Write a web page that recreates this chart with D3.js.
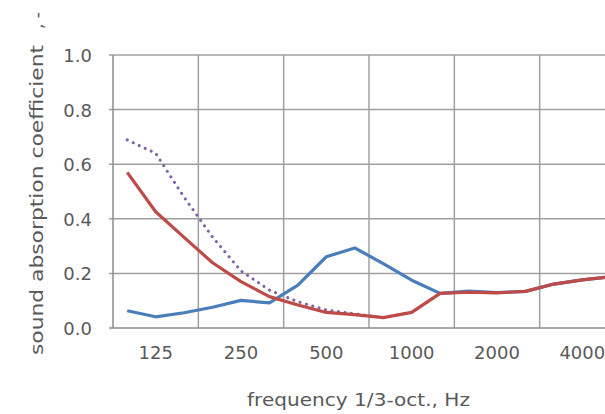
<!DOCTYPE html>
<html>
<head>
<meta charset="utf-8">
<script src="https://cdn.jsdelivr.net/npm/d3@7"></script>
<style>
  body { margin: 0; background: #fff; }
  text { font-family: "DejaVu Sans", sans-serif; fill: #595959; }
</style>
</head>
<body>
<div id="chart"></div>
<script>
// 1/3-octave bands
const bands = ["100", "125", "160", "200", "250", "315", "400", "500", "630",
  "800", "1000", "1250", "1600", "2000", "2500", "3150", "4000", "5000"];
const yTicks = [0, 0.2, 0.4, 0.6, 0.8, 1.0];

const seriesBlue = [0.063, 0.041, 0.056, 0.076, 0.101, 0.092, 0.157, 0.261, 0.293,
  0.236, 0.175, 0.127, 0.135, 0.13, 0.134, 0.161, 0.176, 0.188];
const seriesDotted = [0.689, 0.640, 0.479, 0.333, 0.209, 0.139, 0.096, 0.066, 0.052,
  0.038, 0.057, 0.127, 0.131, 0.129, 0.134, 0.161, 0.176, 0.188];
const seriesRed = [0.570, 0.426, 0.332, 0.239, 0.170, 0.115, 0.084, 0.057, 0.049,
  0.038, 0.057, 0.127, 0.131, 0.129, 0.134, 0.161, 0.176, 0.188];

const chart = {
  totalWidth: 605,
  totalHeight: 414,
  left: 113,
  top: 55,
  plotWidth: 512,
  plotHeight: 273,

  draw: function() {
    const svg = d3.select("#chart").append("svg")
      .attr("width", this.totalWidth)
      .attr("height", this.totalHeight);

    const g = svg.append("g")
      .attr("transform", "translate(" + this.left + "," + this.top + ")");

    const x = d3.scaleBand().domain(bands).range([0, this.plotWidth]);
    const y = d3.scaleLinear().domain([0, 1]).range([this.plotHeight, 0]);
    const cx = d => x(d) + x.bandwidth() / 2;

    // horizontal grid
    g.selectAll(".hgrid").data(yTicks.slice(1)).enter().append("line")
      .attr("class", "hgrid")
      .attr("x1", -4).attr("x2", this.plotWidth)
      .attr("y1", d => y(d)).attr("y2", d => y(d))
      .attr("stroke", "#a0a0a0").attr("stroke-width", 1.5);

    // vertical grid at octave group boundaries
    const bounds = bands.filter((b, i) => i % 3 === 0).slice(1);
    g.selectAll(".vgrid").data(bounds).enter().append("line")
      .attr("class", "vgrid")
      .attr("x1", d => x(d)).attr("x2", d => x(d))
      .attr("y1", 0).attr("y2", this.plotHeight)
      .attr("stroke", "#a0a0a0").attr("stroke-width", 1.5);

    // axes lines
    g.append("line")
      .attr("x1", 0).attr("x2", 0).attr("y1", 0).attr("y2", this.plotHeight)
      .attr("stroke", "#8c8c8c").attr("stroke-width", 1.5);
    g.append("line")
      .attr("x1", -4).attr("x2", this.plotWidth).attr("y1", this.plotHeight).attr("y2", this.plotHeight)
      .attr("stroke", "#8c8c8c").attr("stroke-width", 1.5);

    // y tick labels
    g.selectAll(".ylab").data(yTicks).enter().append("text")
      .attr("x", -21)
      .attr("y", d => y(d) + 7)
      .attr("text-anchor", "end")
      .attr("font-size", "18px")
      .text(d => d3.format(".1f")(d));

    // x tick labels (middle band of each octave)
    g.selectAll(".xlab").data(bands.filter((b, i) => i % 3 === 1)).enter().append("text")
      .attr("x", d => cx(d))
      .attr("y", this.plotHeight + 31)
      .attr("text-anchor", "middle")
      .attr("font-size", "18px")
      .text(d => d);

    // axis titles
    svg.append("text")
      .attr("x", 247)
      .attr("y", 406)
      .attr("font-size", "17px")
      .attr("textLength", 223)
      .attr("lengthAdjust", "spacingAndGlyphs")
      .text("frequency 1/3-oct., Hz");

    svg.append("text")
      .attr("transform", "translate(43,355) rotate(-90)")
      .attr("font-size", "17px")
      .attr("textLength", 310)
      .attr("lengthAdjust", "spacingAndGlyphs")
      .text("sound absorption coefficient");

    svg.append("text")
      .attr("transform", "translate(43,29) rotate(-90)")
      .attr("font-size", "17px")
      .text(", -");

    // lines
    const line = d3.line()
      .x((d, i) => cx(bands[i]))
      .y(d => y(d));

    g.append("path").datum(seriesDotted)
      .attr("d", line)
      .attr("fill", "none")
      .attr("stroke", "#7e62a1")
      .attr("stroke-width", 3)
      .attr("stroke-linecap", "round")
      .attr("stroke-dasharray", "0.1 6.5");

    g.append("path").datum(seriesBlue)
      .attr("d", line)
      .attr("fill", "none")
      .attr("stroke", "#4a7ebb")
      .attr("stroke-width", 3.2)
      .attr("stroke-linejoin", "round");

    g.append("path").datum(seriesRed)
      .attr("d", line)
      .attr("fill", "none")
      .attr("stroke", "#be4b48")
      .attr("stroke-width", 3.2)
      .attr("stroke-linejoin", "round");
  }
};

chart.draw();
</script>
</body>
</html>
